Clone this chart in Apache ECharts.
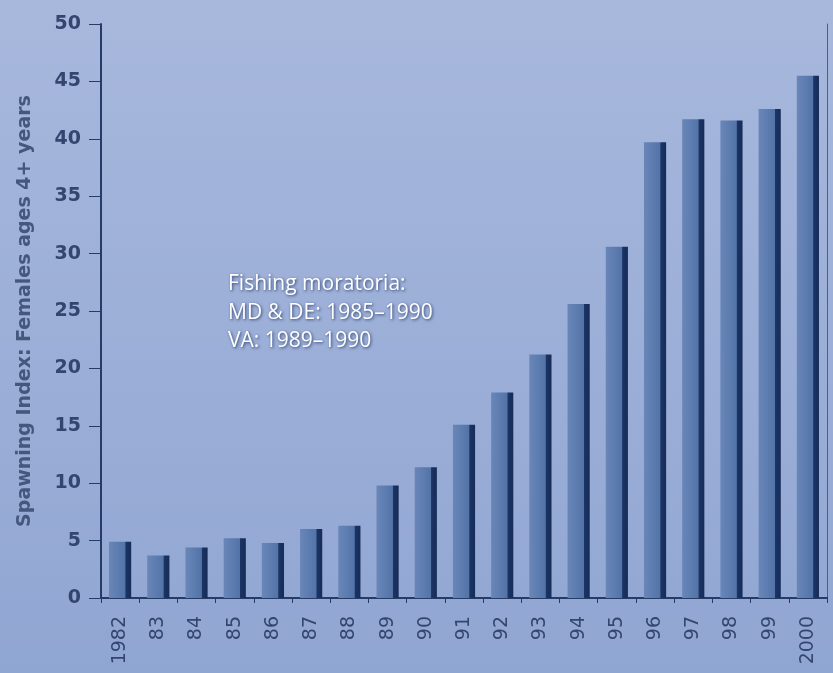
<!DOCTYPE html>
<html>
<head>
<meta charset="utf-8">
<script src="https://cdn.jsdelivr.net/npm/echarts@6/dist/echarts.min.js"></script>
<style>
  html, body { margin: 0; padding: 0; }
  #main { width: 833px; height: 673px; }
</style>
</head>
<body>
<div id="main"></div>
<script>
// years along the bottom
var years = ['1982', '83', '84', '85', '86', '87', '88', '89', '90', '91',
             '92', '93', '94', '95', '96', '97', '98', '99', '2000'];
// spawning index
var spawningIndex = [4.9, 3.7, 4.4, 5.2, 4.8, 6.0, 6.3, 9.8, 11.4, 15.1,
                     17.9, 21.2, 25.6, 30.6, 39.7, 41.7, 41.6, 42.6, 45.5];
var noteLines = ['Fishing moratoria:', 'MD & DE: 1985\u20131990', 'VA: 1989\u20131990'];

var axisInk = '#263c68';
var labelInk = '#34466f';

var chart = echarts.init(document.getElementById('main'));
window.onresize = chart.resize;

chart.setOption({
    backgroundColor: {
        type: 'linear', x: 0, y: 0, x2: 0, y2: 1,
        colorStops: [
            { offset: 0, color: '#a8b8dd' },
            { offset: 1, color: '#90a6d2' }
        ]
    },
    grid: { left: 101, right: 6, top: 24, bottom: 75 },
    xAxis: [
        {
            type: 'category',
            data: years,
            boundaryGap: true,
            axisLine: { lineStyle: { color: axisInk, width: 2 } },
            axisTick: { show: true, length: 5, lineStyle: { color: axisInk } },
            axisLabel: {
                rotate: 90, margin: 18,
                color: labelInk, fontSize: 19, fontFamily: 'DejaVu Sans'
            }
        },
        {
            // top frame line
            type: 'category', position: 'top',
            data: years,
            axisLine: { lineStyle: { color: axisInk, width: 2 } },
            axisTick: { show: false }, axisLabel: { show: false }
        }
    ],
    yAxis: [
        {
            type: 'value',
            min: 0, max: 50, interval: 5,
            name: 'Spawning Index: Females ages 4+ years',
            nameLocation: 'middle',
            nameGap: 66,
            nameTextStyle: { color: '#46577e', fontSize: 19, fontWeight: 'bold', fontFamily: 'DejaVu Sans' },
            axisLine: { show: true, lineStyle: { color: axisInk, width: 2 } },
            axisTick: { show: true, length: 12, lineStyle: { color: axisInk } },
            axisLabel: { color: labelInk, fontSize: 19, fontWeight: 'bold', margin: 20, fontFamily: 'DejaVu Sans' },
            splitLine: { show: false }
        },
        {
            // right frame line
            type: 'value', position: 'right',
            min: 0, max: 50, interval: 5,
            axisLine: { show: true, lineStyle: { color: '#4a5f8c', width: 1 } },
            axisTick: { show: false }, axisLabel: { show: false },
            splitLine: { show: false }
        }
    ],
    series: [
        {
            type: 'bar',
            data: spawningIndex,
            barWidth: '58%',
            itemStyle: {
                color: {
                    type: 'linear', x: 0, y: 0, x2: 1, y2: 0,
                    colorStops: [
                        { offset: 0, color: '#6986b8' },
                        { offset: 0.72, color: '#5374a8' },
                        { offset: 0.76, color: '#1b3464' },
                        { offset: 1, color: '#162c58' }
                    ]
                }
            }
        }
    ],
    graphic: [
        {
            type: 'group',
            left: 228, top: 274,
            children: noteLines.map(function (t, i) {
                return {
                    type: 'text',
                    top: i * 28.5,
                    style: {
                        text: t,
                        fill: '#ffffff',
                        font: '21px "Open Sans"',
                        textShadowColor: 'rgba(20,40,90,0.8)',
                        textShadowBlur: 3,
                        textShadowOffsetX: 1,
                        textShadowOffsetY: 1
                    }
                };
            })
        }
    ]
});
</script>
</body>
</html>
